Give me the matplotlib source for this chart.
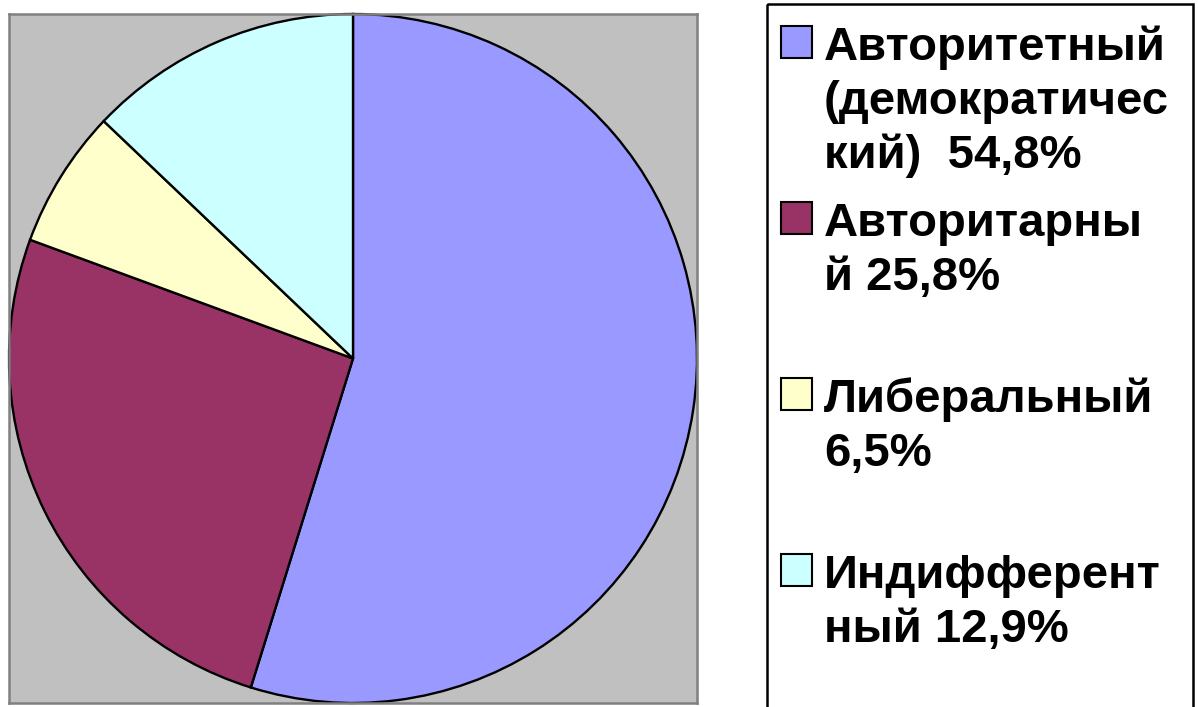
import matplotlib
matplotlib.use("Agg")
import matplotlib.pyplot as plt
from matplotlib.patches import Rectangle

# data
labels = ["Авторитетный\n(демократичес\nкий)  54,8%",
          "Авторитарны\nй 25,8%",
          "Либеральный\n6,5%",
          "Индифферент\nный 12,9%"]
values = [54.8, 25.8, 6.5, 12.9]
colors = ["#9999FF", "#993366", "#FFFFCC", "#CCFFFF"]

W, H = 1198, 707
plt.rcParams["font.family"] = ["Liberation Sans", "DejaVu Sans"]

fig = plt.figure(figsize=(W / 100, H / 100), dpi=100)

# pie on a gray square
ax = fig.add_axes([9 / W, 4 / H, 688 / W, 689 / H])
ax.pie(values, colors=colors, startangle=90, counterclock=False, radius=1,
       wedgeprops=dict(edgecolor="black", linewidth=1.7))
ax.set_xlim(-1, 1)
ax.set_ylim(-1, 1)
ax.set_aspect("auto")
ax.set_frame_on(True)
ax.set_facecolor("#C0C0C0")
for s in ax.spines.values():
    s.set_color("#808080")
    s.set_linewidth(1.8)
ax.set_xticks([])
ax.set_yticks([])

# legend drawn in pixel coords
lg = fig.add_axes([0, 0, 1, 1])
lg.set_xlim(0, W)
lg.set_ylim(H, 0)
lg.axis("off")
lg.add_patch(Rectangle((767, 4), 426, 760, fill=False, edgecolor="black", linewidth=1.8))

for i, (lab, c) in enumerate(zip(labels, colors)):
    base = 60 + i * 176
    lg.add_patch(Rectangle((781, base - 34), 31, 32, facecolor=c,
                           edgecolor="black", linewidth=1.5))
    for j, line in enumerate(lab.split("\n")):
        lg.text(824, base + j * 54, line, fontsize=34, fontweight="bold",
                va="baseline", ha="left", color="black")

fig.savefig("out.png", dpi=100)
